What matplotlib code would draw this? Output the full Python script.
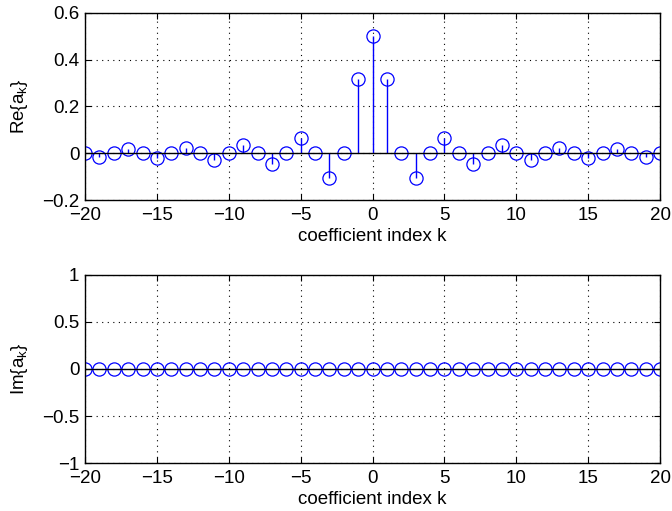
import matplotlib
matplotlib.use("Agg")
from matplotlib import pyplot as plt

# coefficient indices and values
k = list(range(-20, 21))
re_ak = [0.0, -0.0168, 0.0, 0.0187, 0.0, -0.0212, 0.0, 0.0245, 0.0, -0.0289,
         0.0, 0.0354, 0.0, -0.0455, 0.0, 0.0637, 0.0, -0.1061, 0.0, 0.3183,
         0.5,
         0.3183, 0.0, -0.1061, 0.0, 0.0637, 0.0, -0.0455, 0.0, 0.0354, 0.0,
         -0.0289, 0.0, 0.0245, 0.0, -0.0212, 0.0, 0.0187, 0.0, -0.0168, 0.0]
im_ak = [0.0] * 41

plt.rcParams['font.family'] = ['Liberation Sans', 'DejaVu Sans']
plt.rcParams['font.size'] = 13.5

fig = plt.figure(figsize=(6.72, 5.11), dpi=100)
ax1 = fig.add_axes([0.1265, 0.6086, 0.8557, 0.366])
ax2 = fig.add_axes([0.1265, 0.0939, 0.8557, 0.368])


def stemPlot(ax, y, ylim, yticks, ylabel):
    """MATLAB-style stem plot with dotted grid."""
    ml, sl, bl = ax.stem(k, y, linefmt='b-', markerfmt='o', basefmt='k-')
    ml.set_markerfacecolor('none')
    ml.set_markeredgecolor('blue')
    ml.set_markersize(9.5)
    ml.set_markeredgewidth(0.9)
    sl.set_linewidth(1.0)
    bl.set_linewidth(1.0)
    bl.set_xdata([-20, 20])
    ax.set_xlim(-20, 20)
    ax.set_ylim(*ylim)
    ax.set_xticks(range(-20, 21, 5))
    ax.set_yticks(yticks)
    ax.set_xticklabels([str(t).replace('-', '\u2212') for t in range(-20, 21, 5)])
    ax.set_yticklabels([('%g' % t).replace('-', '\u2212') for t in yticks])
    ax.grid(True, linestyle=(0, (1, 4)), color='black', linewidth=0.8)
    ax.tick_params(direction='in', length=4, width=0.8, top=True, right=True,
                   labelsize=13.5)
    ax.tick_params(axis='x', pad=5)
    ax.tick_params(axis='y', pad=4)
    for s in ax.spines.values():
        s.set_linewidth(1.0)
    ax.set_xlabel('coefficient index k', labelpad=3)
    ax.set_ylabel(ylabel, labelpad=9)


stemPlot(ax1, re_ak, (-0.2, 0.6), [-0.2, 0, 0.2, 0.4, 0.6], r'Re{a$_\mathregular{k}$}')
stemPlot(ax2, im_ak, (-1, 1), [-1, -0.5, 0, 0.5, 1], r'Im{a$_\mathregular{k}$}')

fig.savefig('out.png', dpi=100)
